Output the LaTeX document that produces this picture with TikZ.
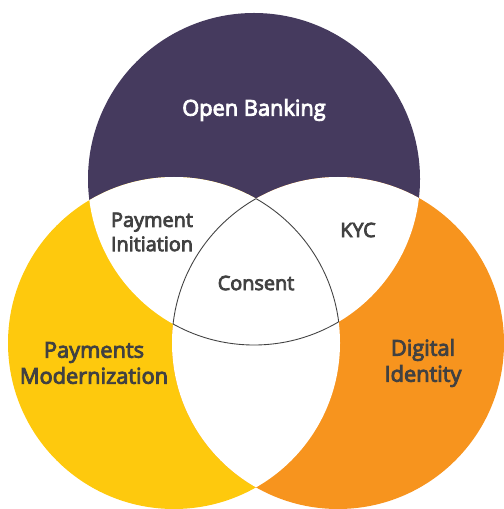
\documentclass[tikz,border=0pt]{standalone}
\usepackage{fontspec}
\newfontfamily\labelfont{Open Sans}[FakeBold=4]
\usepackage{tikz}
\definecolor{bankpurple}{HTML}{453A5E}
\definecolor{payyellow}{HTML}{FEC90D}
\definecolor{idorange}{HTML}{F7941E}
\definecolor{labelgray}{HTML}{414141}
\begin{document}
\begin{tikzpicture}[
  x=0.02cm,y=-0.02cm,
  area label/.style={text=labelgray,align=center,font=\labelfont\fontsize{11.3}{13.8}\selectfont,inner sep=0pt},
  big label/.style={area label,font=\labelfont\fontsize{12.4}{14.8}\selectfont},
  rim/.style={draw=labelgray,line width=0.5pt}
]
\useasboundingbox (0,0) rectangle (503,509);
\def\rad{166}
\coordinate (cOB) at (254,179);
\coordinate (cPM) at (174,343);
\coordinate (cDI) at (338,343);
% the three sets
\fill[bankpurple] (cOB) circle (\rad);
\fill[payyellow] (cPM) circle (\rad);
\fill[idorange] (cDI) circle (\rad);
% overlaps are left blank
\begin{scope}
  \clip (cOB) circle (\rad);
  \fill[white] (cPM) circle (\rad);
  \fill[white] (cDI) circle (\rad);
\end{scope}
\begin{scope}
  \clip (cPM) circle (\rad);
  \fill[white] (cDI) circle (\rad);
\end{scope}
% outline of the common part
\begin{scope}
  \clip (cOB) circle (\rad); \clip (cPM) circle (\rad);
  \draw[rim] (cDI) circle (\rad);
\end{scope}
\begin{scope}
  \clip (cOB) circle (\rad); \clip (cDI) circle (\rad);
  \draw[rim] (cPM) circle (\rad);
\end{scope}
\begin{scope}
  \clip (cPM) circle (\rad); \clip (cDI) circle (\rad);
  \draw[rim] (cOB) circle (\rad);
\end{scope}
\node[big label,text=white] (ob) at (254,110) {Open Banking};
\node[big label] (pm) at (94,363) {Payments\\Modernization};
\node[big label] (di) at (423,363) {Digital\\Identity};
\node[area label] (pi) at (152,232) {Payment\\Initiation};
\node[area label] (kyc) at (358,230) {KYC};
\node[area label] (con) at (256,283) {Consent};
\end{tikzpicture}
\end{document}
